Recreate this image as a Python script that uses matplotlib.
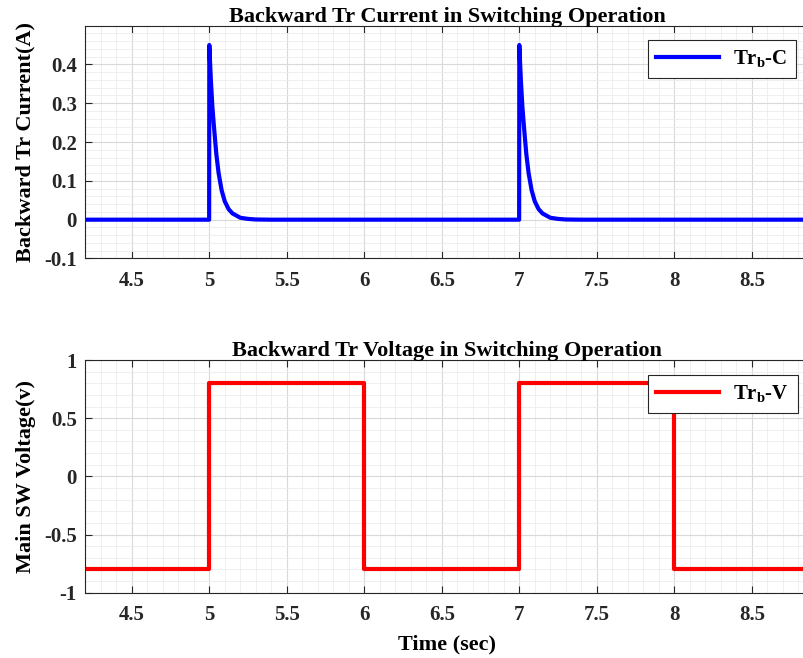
import matplotlib
matplotlib.use("Agg")
import matplotlib.pyplot as plt
from matplotlib.ticker import MultipleLocator, FixedLocator

plt.rcParams['font.family'] = ['Liberation Serif', 'DejaVu Serif']
plt.rcParams['font.weight'] = 'bold'
plt.rcParams['mathtext.fontset'] = 'custom'
plt.rcParams['mathtext.rm'] = 'Liberation Serif:bold'
plt.rcParams['mathtext.it'] = 'Liberation Serif:bold'
plt.rcParams['mathtext.bf'] = 'Liberation Serif:bold'

# ---- data ----
cur_time = [4.2, 4.999, 5.0, 5.01, 5.02, 5.03, 5.045, 5.06, 5.08, 5.1, 5.125, 5.15, 5.2, 5.25, 5.3, 5.4,
            6.999, 7.0, 7.01, 7.02, 7.03, 7.045, 7.06, 7.08, 7.1, 7.125, 7.15, 7.2, 7.25, 7.3, 7.4, 8.9]
cur_vals = [0.0, 0.0, 0.45, 0.36, 0.29, 0.24, 0.17, 0.12, 0.075, 0.047, 0.027, 0.016, 0.005, 0.002, 0.0005, 0.0,
            0.0, 0.45, 0.36, 0.29, 0.24, 0.17, 0.12, 0.075, 0.047, 0.027, 0.016, 0.005, 0.002, 0.0005, 0.0, 0.0]

volt_time = [4.2, 5.0, 5.0, 6.0, 6.0, 7.0, 7.0, 8.0, 8.0, 8.9]
volt_vals = [-0.8, -0.8, 0.8, 0.8, -0.8, -0.8, 0.8, 0.8, -0.8, -0.8]

x_ticks = [4.5, 5, 5.5, 6, 6.5, 7, 7.5, 8, 8.5]
x_tick_labels = ['4.5', '5', '5.5', '6', '6.5', '7', '7.5', '8', '8.5']
cur_yticks = [-0.1, 0, 0.1, 0.2, 0.3, 0.4]
cur_ytick_labels = ['-0.1', '0', '0.1', '0.2', '0.3', '0.4']
volt_yticks = [-1, -0.5, 0, 0.5, 1]
volt_ytick_labels = ['-1', '-0.5', '0', '0.5', '1']

titles = ['Backward Tr Current in Switching Operation', 'Backward Tr Voltage in Switching Operation']
ylabels = ['Backward Tr Current(A)', 'Main SW Voltage(v)']
legend_labels = [r'Tr$_{\mathrm{b}}$-C', r'Tr$_{\mathrm{b}}$-V']

W, H = 804, 658
fig = plt.figure(figsize=(W / 100, H / 100), dpi=100)

x_left = 85.3
x_right = 809
ax1 = fig.add_axes([x_left / W, 1 - 258.5 / H, (x_right - x_left) / W, (258.5 - 26) / H])
ax2 = fig.add_axes([x_left / W, 1 - 592.7 / H, (x_right - x_left) / W, (592.7 - 360) / H])

spine_col = '#262626'

def style(ax, yticks, ylabs, yminor):
    ax.set_xlim(4.2, 4.2 + (x_right - x_left) / 155.0)
    ax.xaxis.set_major_locator(FixedLocator(x_ticks))
    ax.set_xticklabels(x_tick_labels)
    ax.xaxis.set_minor_locator(MultipleLocator(0.1))
    ax.yaxis.set_major_locator(FixedLocator(yticks))
    ax.set_yticklabels(ylabs)
    ax.yaxis.set_minor_locator(MultipleLocator(yminor))
    ax.grid(True, which='major', color='#d9d9d9', linewidth=0.8)
    ax.grid(True, which='minor', color='#ececec', linewidth=0.6)
    ax.set_axisbelow(True)
    ax.tick_params(which='major', direction='in', length=5, width=0.8, colors=spine_col,
                   top=True, right=False, labelsize=15, pad=9)
    ax.tick_params(which='minor', length=0)
    ax.tick_params(axis='y', pad=6)
    for lab in ax.get_xticklabels() + ax.get_yticklabels():
        lab.set_fontweight('bold')
    for s in ax.spines.values():
        s.set_color(spine_col)
        s.set_linewidth(0.8)

ax1.plot(cur_time, cur_vals, color='#0000ff', linewidth=3.0, label=legend_labels[0])
ax1.set_ylim(-0.1, 0.499)
style(ax1, cur_yticks, cur_ytick_labels, 0.02)
ax1.set_title(titles[0], fontsize=16, fontweight='bold', pad=3)
ax1.set_ylabel(ylabels[0], fontsize=16, fontweight='bold', labelpad=6)

ax2.plot(volt_time, volt_vals, color='#ff0000', linewidth=3.0, label=legend_labels[1])
ax2.set_ylim(-1, 1)
style(ax2, volt_yticks, volt_ytick_labels, 0.1)
ax2.set_title(titles[1], fontsize=16, fontweight='bold', pad=3)
ax2.set_ylabel(ylabels[1], fontsize=16, fontweight='bold', labelpad=6)
ax2.set_xlabel('Time (sec)', fontsize=16, fontweight='bold', labelpad=7)

for ax, yb in ((ax1, 40), (ax2, 375)):
    leg = ax.legend(loc='upper left', bbox_to_anchor=(648 / W, 1 - yb / H),
                    bbox_transform=fig.transFigure, fancybox=False, framealpha=1,
                    edgecolor=spine_col, handlelength=3.0, prop={'size': 15, 'weight': 'bold'},
                    borderpad=0.4, handletextpad=0.7, borderaxespad=0)
    leg.get_frame().set_linewidth(0.8)

fig.savefig('out.png', dpi=100)
